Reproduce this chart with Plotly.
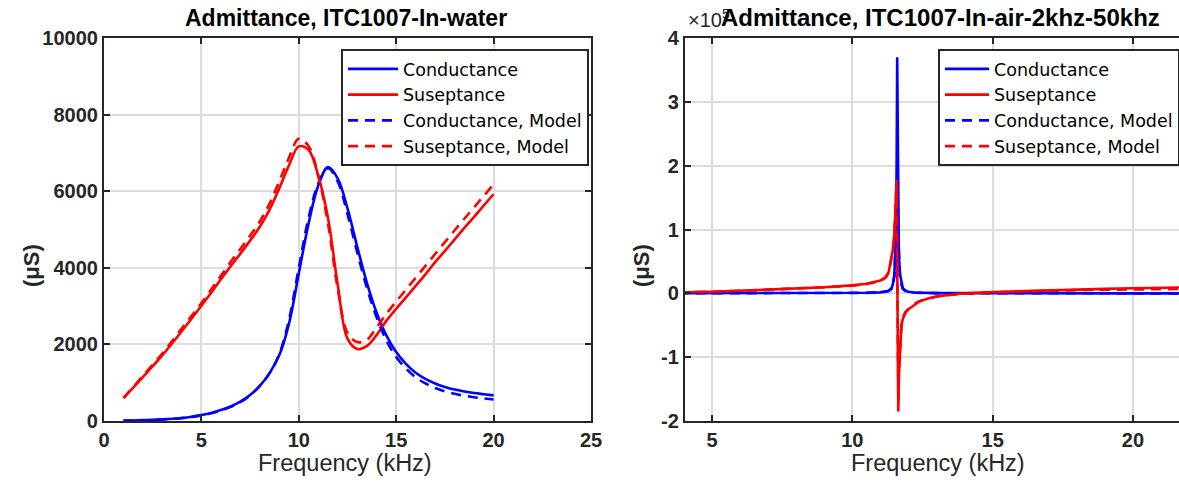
import plotly.graph_objects as go

W, H = 1179, 487

# ---------------- Left panel data (in water), uS ----------------
freq_water = [1, 1.5, 2, 2.5, 3, 3.5, 4, 4.5, 5, 5.5, 6, 6.5, 7, 7.5, 8, 8.5, 9, 9.5, 10,
              10.5, 11, 11.5, 12, 12.5, 13, 13.5, 14, 14.5, 15, 15.5, 16, 16.5, 17, 17.5,
              18, 18.5, 19, 19.5, 20]
g_water = [10, 15, 22, 30, 42, 58, 80, 112, 155, 210, 285, 380, 505, 680, 920, 1250, 1720,
           2550, 3850, 5150, 6150, 6630, 6330, 5550, 4550, 3600, 2820, 2230, 1800, 1490,
           1260, 1100, 980, 890, 820, 770, 730, 700, 670]
b_water = [600, 870, 1150, 1430, 1720, 2030, 2350, 2680, 3010, 3350, 3700, 4040, 4370, 4710,
           5070, 5520, 6080, 6680, 7170, 7080, 6400, 5300, 3550, 2150, 1880, 1960, 2250,
           2620, 2930, 3230, 3530, 3830, 4150, 4440, 4740, 5040, 5330, 5630, 5920]
g_water_model = [5, 10, 15, 25, 38, 53, 75, 105, 148, 200, 275, 370, 495, 670, 915, 1250,
                 1750, 2650, 4000, 5300, 6200, 6600, 6250, 5400, 4400, 3470, 2700, 2100,
                 1670, 1370, 1140, 980, 860, 775, 710, 660, 620, 590, 560]
b_water_model = [600, 890, 1180, 1470, 1770, 2090, 2420, 2750, 3080, 3430, 3790, 4150, 4490,
                 4840, 5210, 5680, 6260, 6880, 7370, 7180, 6400, 5150, 3450, 2300, 2060,
                 2120, 2450, 2800, 3120, 3430, 3740, 4050, 4360, 4670, 4980, 5280, 5580,
                 5880, 6180]

# ---------------- Right panel data (in air), units of 1e5 uS ----------------
freq_air = [2, 3, 4, 5, 6, 7, 8, 9, 10, 10.5, 11, 11.2, 11.3, 11.4, 11.45, 11.5, 11.55,
            11.58, 11.6, 11.62, 11.64, 11.66, 11.7, 11.75, 11.8, 11.9, 12, 12.2, 12.4, 12.7,
            13, 13.5, 14, 15, 16, 17, 18, 19, 20, 21, 22, 23, 24]
g_air = [0, 0, 0, 0, 0, 0, 0.002, 0.003, 0.005, 0.008, 0.015, 0.025, 0.04, 0.08, 0.15, 0.3,
         0.9, 2.0, 3.7, 2.6, 1.2, 0.6, 0.3, 0.15, 0.08, 0.04, 0.025, 0.012, 0.008, 0.005,
         0.004, 0.003, 0.002, 0, 0, 0, 0, 0, 0, 0, 0, 0, 0]
b_air = [0.0, 0.005, 0.015, 0.025, 0.04, 0.055, 0.075, 0.095, 0.125, 0.15, 0.2, 0.26, 0.34,
         0.55, 0.7, 0.95, 1.4, 1.78, 0.5, -1.0, -1.85, -1.3, -0.8, -0.5, -0.4, -0.3, -0.25,
         -0.18, -0.125, -0.08, -0.05, -0.02, 0.0, 0.02, 0.035, 0.05, 0.06, 0.07, 0.08,
         0.09, 0.095, 0.1, 0.105]
g_air_model = [0, 0, 0, 0, 0, 0, 0.001, 0.002, 0.004, 0.007, 0.013, 0.022, 0.035, 0.07,
               0.13, 0.27, 0.8, 1.5, 1.45, 1.1, 0.8, 0.5, 0.28, 0.14, 0.07, 0.035, 0.02,
               0.01, 0.006, 0.004, 0.003, 0.002, 0.001, 0, 0, 0, 0, 0, 0, 0, 0, 0, 0]
b_air_model = [0.0, 0.005, 0.015, 0.025, 0.04, 0.055, 0.075, 0.095, 0.12, 0.145, 0.19,
               0.25, 0.33, 0.53, 0.68, 0.92, 1.35, 1.75, 0.6, -0.9, -1.7, -1.25, -0.78,
               -0.5, -0.37, -0.29, -0.25, -0.17, -0.12, -0.08, -0.05, -0.025, -0.005,
               0.015, 0.03, 0.04, 0.05, 0.055, 0.06, 0.065, 0.07, 0.075, 0.08]

names = ["Conductance", "Suseptance", "Conductance, Model", "Suseptance, Model"]
left_ticks = [0, 2000, 4000, 6000, 8000, 10000]
right_ticks = [-2, -1, 0, 1, 2, 3, 4]
BLUE, RED = "#0000ff", "#ff0000"
DASH = "10px,7px"


def px(x):
    return x / W


def py(y):
    return 1 - y / H


fig = go.Figure()

left_series = [(g_water, BLUE, "solid"), (b_water, RED, "solid"),
               (g_water_model, BLUE, DASH), (b_water_model, RED, DASH)]
for name, (vals, col, dash) in zip(names, left_series):
    fig.add_trace(go.Scatter(x=freq_water, y=vals, mode="lines", name=name,
                             line=dict(color=col, width=2.6, dash=dash, shape="spline",
                                       smoothing=1.0),
                             xaxis="x", yaxis="y", legend="legend"))

right_series = [(g_air, BLUE, "solid"), (b_air, RED, "solid"),
                (g_air_model, BLUE, DASH), (b_air_model, RED, DASH)]
for name, (vals, col, dash) in zip(names, right_series):
    fig.add_trace(go.Scatter(x=freq_air, y=vals, mode="lines", name=name,
                             line=dict(color=col, width=2.6, dash=dash),
                             xaxis="x2", yaxis="y2", legend="legend2"))

AX = "#262626"
tickfont = dict(family="Liberation Sans", size=20, color=AX, weight="bold")
common = dict(showline=True, linecolor=AX, linewidth=2.2, ticks="inside", ticklen=6,
              tickwidth=2, tickcolor=AX, showgrid=True, gridcolor="#dcdcdc",
              gridwidth=1.6, zeroline=False, tickfont=tickfont, layer="above traces")

legfont = dict(family="DejaVu Sans", size=17.5, color="black")
ytop, ybot = 38, 421
fig.update_layout(
    width=W, height=H,
    margin=dict(l=0, r=0, t=0, b=0, autoexpand=False),
    paper_bgcolor="white", plot_bgcolor="white",
    showlegend=True,
    xaxis=dict(domain=[px(104), px(591)], range=[0, 25], tickvals=[0, 5, 10, 15, 20, 25],
               mirror="ticks", anchor="y", **common),
    yaxis=dict(domain=[py(ybot), py(ytop)], range=[0, 10000],
               tickvals=left_ticks, ticktext=[str(v) for v in left_ticks],
               mirror="ticks", anchor="x", **common),
    xaxis2=dict(domain=[px(685), 1.0], range=[4.04, 21.64], tickvals=[5, 10, 15, 20],
                mirror="ticks", anchor="y2", **common),
    yaxis2=dict(domain=[py(ybot), py(ytop)], range=[-2, 4],
                tickvals=right_ticks, ticktext=[str(v) for v in right_ticks],
                mirror=False, anchor="x2", **common),
    legend=dict(x=px(589), y=py(49), xanchor="right", yanchor="top",
                bgcolor="white", bordercolor=AX, borderwidth=2,
                font=legfont, tracegroupgap=0, itemwidth=50),
    legend2=dict(x=px(938), y=py(49), xanchor="left", yanchor="top",
                 bgcolor="white", bordercolor=AX, borderwidth=2,
                 font=legfont, tracegroupgap=0, itemwidth=44),
)

titlefont = dict(family="Liberation Sans", size=23, color="black", weight="bold")
titlefont2 = dict(family="Liberation Sans", size=24, color="black", weight="bold")
labfont = dict(family="Liberation Sans", size=23.5, color=AX)
ylabfont = dict(family="Liberation Sans", size=22, color=AX, weight="bold")
anns = [
    dict(text="×10<sup>5</sup>", x=px(686), y=py(33), xanchor="left", yanchor="bottom",
         font=dict(family="Liberation Sans", size=20, color=AX)),
    dict(text="Admittance, ITC1007-In-water", x=px(346), y=py(18), font=titlefont),
    dict(text="Admittance, ITC1007-In-air-2khz-50khz", x=px(940), y=py(18), font=titlefont2),
    dict(text="Frequency (kHz)", x=px(345), y=py(463), font=labfont),
    dict(text="Frequency (kHz)", x=px(938), y=py(463), font=labfont),
    dict(text="(μS)", x=px(31), y=py(266), font=ylabfont, textangle=-90),
    dict(text="(μS)", x=px(641), y=py(266), font=ylabfont, textangle=-90),
]
for a in anns:
    a.setdefault("xanchor", "center")
    a.setdefault("yanchor", "middle")
    fig.add_annotation(xref="paper", yref="paper", showarrow=False, **a)

fig.write_html("out.html", config={"displayModeBar": False},
               post_script="document.body.style.margin='0';document.body.style.overflow='hidden';")
